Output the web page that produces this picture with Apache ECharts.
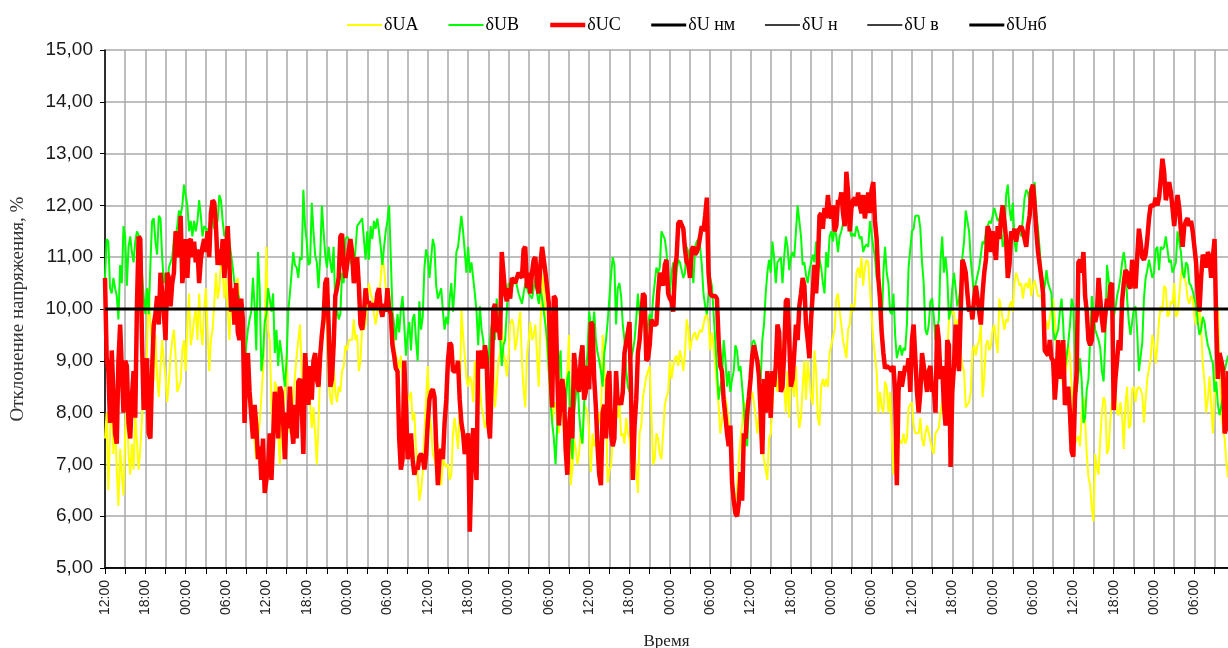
<!DOCTYPE html>
<html>
<head>
<meta charset="utf-8">
<title>Отклонение напряжения</title>
<script src="https://cdn.jsdelivr.net/npm/echarts@6/dist/echarts.min.js"></script>
<style>
  html, body { margin: 0; padding: 0; background: #fff; }
  #chart { width: 1228px; height: 648px; }
</style>
</head>
<body>
<div id="chart"></div>
<script>
// замеры через 15 мин, начало в 12:00
var startHour = 12
var stepMin = 15

// δUA, %
var ua = [
  7.5,8.0,6.5,7.6,8.4,7.2,7.8,6.9,6.2,7.3,
  6.8,6.4,7.6,8.2,7.2,6.8,7.4,6.9,8.0,7.4,
  6.9,7.3,7.9,8.7,8.2,9.2,10.4,9.7,9.3,8.6,
  9.5,8.7,8.3,8.9,9.4,9.0,8.7,8.2,8.6,9.1,
  9.4,9.6,9.1,8.4,8.5,8.6,9.2,9.4,8.8,9.7,
  10.3,9.3,9.5,9.8,10.0,9.4,10.3,9.6,9.3,10.0,
  10.4,9.6,8.8,9.4,9.6,10.1,10.7,10.2,10.4,10.9,
  10.8,10.2,10.6,10.0,9.4,10.2,9.9,10.4,10.5,10.6,
  10.1,9.7,9.2,9.4,8.8,8.4,8.1,8.3,7.8,7.4,
  7.1,7.5,7.8,8.3,8.8,9.6,11.2,9.6,9.4,8.2,
  7.6,8.6,8.5,7.6,7.0,8.0,7.7,8.5,9.1,8.3,
  7.6,7.9,8.2,8.7,9.1,9.4,9.7,8.8,8.3,9.0,
  8.8,8.4,8.2,7.7,8.1,7.6,7.0,7.8,8.8,9.4,
  9.8,9.9,9.7,
  8.6,8.3,8.15,8.9,8.4,8.2,8.5,8.4,8.8,8.9,
  9.3,9.2,9.4,9.4,9.4,9.8,9.4,9.5,8.8,9.0,
  9.7,9.6,9.7,10.2,10.5,10.3,10.2,9.9,9.7,9.7,
  10.2,10.6,11.0,10.8,10.4,10.0,10.05,9.9,9.8,9.3,
  9.1,9.0,8.85,9.1,8.65,7.5,7.6,8.2,8.3,8.4,
  7.85,8.0,7.3,7.3,6.3,6.5,6.85,7.6,8.25,8.9,
  8.0,7.7,7.2,7.1,6.9,7.4,6.85,6.6,7.1,7.1,
  6.95,7.0,6.7,6.8,7.6,7.9,7.6,7.3,8.15,10.0,
  9.5,9.1,8.65,8.5,8.7,8.6,8.2,9.0,8.65,9.2,
  8.5,8.1,7.95,7.7,7.85,8.0,8.2,8.5,9.05,8.1,
  8.5,9.0,9.15,9.7,9.15,9.0,8.7,9.1,9.7,9.8,
  9.7,9.2,9.4,9.7,9.95,9.0,8.45,8.1,9.1,9.4,
  9.75,9.4,9.5,9.7,9.1,8.5,9.7,10.4,10.7,9.7,
  9.2,8.8,8.25,7.8,
  8.15,8.2,7.75,7.6,8.3,8.0,7.6,8.5,8.8,9.5,
  6.6,6.9,7.5,7.3,7.0,7.2,7.7,7.4,8.15,8.1,
  8.0,7.6,6.85,7.6,7.35,7.5,7.7,8.0,7.75,9.5,
  8.9,8.2,6.65,6.9,6.95,7.5,7.8,8.0,7.9,8.2,
  7.55,7.6,7.4,7.9,7.6,7.5,7.2,7.6,7.2,6.9,
  6.45,7.6,7.75,8.3,8.3,8.7,8.7,8.9,8.0,7.0,
  7.1,7.6,7.5,7.2,7.1,7.6,8.15,8.3,8.4,9.0,
  8.65,8.9,9.05,9.1,8.9,9.2,9.05,8.8,9.15,9.8,
  9.6,9.2,9.4,9.5,9.55,9.4,9.5,9.6,9.55,9.7,
  9.85,9.9,9.75,9.2,9.55,9.3,8.9,8.5,8.15,7.6,
  7.6,8.1,8.3,8.1,7.8,7.5,6.95,6.5,6.3,6.5,
  7.1,7.5,7.75,8.2,8.2,8.1,8.25,8.3,8.4,8.2,
  7.95,7.6,7.95,7.5,7.35,7.1,6.9,6.7,7.5,7.6,
  8.15,8.7,8.6,8.4,
  8.4,9.4,8.8,8.5,8.0,8.8,7.9,8.9,8.5,8.3,
  8.9,8.1,7.7,7.9,8.5,9.0,8.25,9.0,8.65,8.3,
  8.15,9.2,8.8,7.9,7.75,8.5,8.65,8.5,8.65,8.5,
  9.15,9.3,9.3,9.6,10.2,10.3,9.95,9.7,9.4,9.4,
  9.05,9.6,9.7,10.1,9.95,10.1,10.7,10.8,10.6,11.0,
  10.45,10.8,10.95,10.9,10.4,9.9,9.4,9.1,8.8,8.0,
  8.4,8.1,8.0,8.6,8.5,8.0,8.4,7.6,6.8,7.7,
  7.6,7.5,7.5,7.4,7.6,7.4,7.5,8.1,8.15,8.2,
  7.75,7.6,7.6,7.6,7.9,7.5,7.35,7.6,7.75,7.6,
  7.6,7.3,7.2,7.6,7.6,7.7,8.0,8.2,8.4,8.8,
  9.15,9.8,10.05,9.9,9.95,9.5,9.8,9.4,9.4,8.9,
  8.8,8.1,8.15,8.2,8.4,9.2,9.3,9.1,9.3,9.4,
  9.7,8.3,8.65,9.3,9.4,9.2,9.3,9.6,9.7,9.4,
  9.15,10.2,10.2,9.8,
  9.6,9.8,9.75,10.05,10.15,9.95,10.5,10.7,10.7,10.45,
  10.5,10.2,10.45,10.5,10.4,10.6,10.25,10.45,10.55,10.4,
  10.25,10.25,10.25,9.95,9.8,9.75,9.6,9.6,10.05,10.2,
  9.8,9.3,9.1,8.9,8.7,8.5,8.5,8.9,9.3,9.1,
  8.5,7.85,7.4,7.4,7.55,7.35,8.0,8.3,7.85,7.2,
  6.75,6.6,6.15,5.9,7.2,6.95,6.8,7.5,8.0,8.3,
  8.2,7.2,7.3,7.85,8.2,8.5,8.45,8.0,7.95,8.2,
  7.95,7.3,8.15,8.5,7.7,7.75,8.45,8.5,8.2,8.45,
  8.5,8.45,8.35,7.8,8.25,8.65,8.85,9.05,9.5,9.3,
  8.95,9.3,9.8,10.05,9.95,10.45,10.4,9.85,9.9,10.15,
  10.1,10.5,9.85,9.9,10.25,10.65,10.8,10.6,10.5,10.2,
  10.1,10.25,10.2,9.85,9.7,9.75,10.0,9.65,8.95,8.6,
  8.0,8.25,8.7,8.15,7.6,8.4,8.9,10.05,8.9,8.0,
  7.7,7.5,7.05,6.75
]

// δUB, %
var ub = [
  10.6,11.35,11.3,10.4,10.3,10.6,10.4,10.25,9.8,10.85,
  10.5,11.6,11.4,10.45,11.2,11.4,11.1,10.9,11.3,11.5,
  11.5,11.35,10.7,10.25,9.9,10.4,9.9,10.85,11.7,11.75,
  11.3,11.05,11.8,11.75,11.0,10.5,10.7,10.4,10.8,10.9,
  11.0,11.35,11.4,11.6,11.9,11.8,12.0,12.4,12.4,12.0,
  11.5,11.7,11.4,11.7,11.5,11.7,12.1,11.8,11.4,11.6,
  11.6,11.5,11.6,11.8,11.7,11.55,11.6,11.7,12.2,12.1,
  11.7,11.4,11.4,11.55,11.3,11.05,10.8,10.5,10.5,10.3,
  10.2,9.95,9.5,8.85,9.3,9.6,9.8,9.95,10.6,10.05,
  9.2,11.1,10.4,8.8,9.1,9.75,9.9,10.4,10.2,9.95,
  10.3,9.15,9.6,8.9,9.4,9.15,8.8,8.5,9.0,9.95,
  10.3,10.7,11.1,10.85,10.8,10.6,11.0,10.95,12.3,11.6,
  11.3,10.85,10.9,12.05,11.5,11.05,10.9,10.4,11.0,12.0,
  11.5,11.05,10.8,
  11.2,10.9,10.7,11.2,10.05,10.0,9.8,9.9,10.7,10.5,
  11.35,11.4,11.35,10.9,10.85,10.7,10.7,11.6,11.6,11.7,
  11.75,11.75,10.95,11.5,10.95,11.6,11.35,11.7,11.55,11.75,
  11.5,11.2,10.85,11.2,11.5,11.7,12.0,11.0,9.95,9.7,
  9.4,9.9,9.55,10.0,10.25,9.7,9.1,9.5,9.75,9.2,
  9.8,9.9,9.4,9.0,10.15,9.6,9.85,10.8,11.15,11.0,
  10.6,10.6,11.35,11.2,10.45,10.2,10.3,10.4,9.95,9.6,
  9.85,9.7,10.2,10.5,9.95,10.4,11.1,11.2,11.5,11.8,
  11.5,11.1,10.7,11.2,10.7,10.9,10.6,10.3,9.95,9.3,
  10.05,9.6,9.4,8.9,9.05,8.9,9.4,9.7,9.55,9.4,
  10.2,9.8,9.5,8.9,9.3,9.4,9.95,10.5,10.5,10.4,
  10.5,10.6,10.45,10.3,10.2,10.1,10.3,10.5,10.4,10.3,
  10.25,10.2,10.4,10.6,10.3,10.1,10.4,10.2,9.95,9.7,
  9.4,8.8,8.25,7.8,
  7.5,7.0,7.75,8.9,9.2,8.0,8.4,8.1,8.65,8.8,
  7.75,7.1,8.0,8.3,8.8,8.0,7.6,7.4,8.15,8.8,
  9.15,9.95,9.7,9.55,9.95,9.4,9.15,9.0,8.8,8.5,
  9.15,9.4,9.75,10.2,10.65,11.0,10.85,9.7,10.4,10.5,
  10.25,9.7,9.4,8.8,8.5,8.4,9.05,9.2,9.4,9.8,
  10.3,9.9,9.55,10.1,9.8,9.4,9.7,9.9,9.7,10.2,
  10.5,10.8,10.7,10.8,11.5,11.5,11.35,11.1,10.6,10.3,
  10.7,10.9,10.3,10.7,10.95,10.9,10.9,10.6,10.7,11.2,
  11.1,10.8,10.85,10.5,11.2,11.3,11.35,11.2,10.85,10.3,
  10.05,9.9,10.3,10.6,10.45,10.45,9.4,9.4,8.25,8.5,
  8.65,9.4,9.05,8.5,8.8,8.4,8.65,8.8,9.3,9.2,
  8.8,8.9,8.5,8.1,7.5,7.35,8.15,8.8,9.35,9.4,
  9.3,9.0,8.8,8.6,9.4,9.7,10.3,10.7,10.95,10.7,
  11.3,11.0,10.5,10.9,
  10.95,11.0,10.5,11.0,11.4,11.2,10.75,11.0,11.1,11.0,
  11.5,12.0,11.7,11.4,10.85,10.9,10.65,10.5,10.75,10.9,
  11.05,10.9,11.3,11.2,10.95,10.8,10.5,10.3,11.1,10.8,
  11.4,11.5,11.3,11.6,11.4,11.1,11.4,11.5,11.65,11.7,
  11.7,11.8,11.55,11.4,11.45,11.4,11.6,11.5,11.35,11.4,
  11.1,11.2,11.25,11.2,11.7,11.7,11.2,11.0,10.6,10.5,
  9.9,9.6,10.7,11.2,10.7,10.5,9.95,9.9,10.3,9.5,
  9.05,9.2,9.3,9.1,9.25,9.2,9.7,10.8,11.15,11.5,
  11.55,11.8,11.8,11.8,11.55,10.9,10.5,9.6,9.5,9.7,
  10.15,10.2,9.85,9.4,9.6,9.8,10.95,11.4,10.7,11.0,
  10.65,9.8,9.95,10.4,10.7,10.4,10.05,10.2,10.5,11.0,
  11.3,11.9,11.7,11.5,10.95,10.6,10.25,10.5,10.65,10.8,
  11.05,11.3,11.25,11.5,11.6,11.7,11.65,11.8,11.95,11.95,
  11.7,11.75,11.6,11.2,
  11.3,12.2,12.4,11.95,11.7,12.05,11.3,11.1,11.5,11.6,
  11.4,11.75,12.15,12.3,12.25,12.05,12.15,12.3,12.45,11.85,
  11.55,11.15,10.65,10.25,10.45,10.75,10.5,10.4,10.3,9.6,
  9.4,9.4,9.6,9.95,10.2,9.7,8.85,8.85,9.35,9.7,
  10.2,10.05,9.15,8.4,8.4,9.05,8.6,7.8,7.9,8.45,
  8.65,9.4,10.25,9.95,9.6,9.5,9.4,9.25,8.8,8.6,
  9.4,10.85,10.85,10.3,9.95,9.85,10.0,10.25,10.4,10.6,
  10.9,11.1,10.85,10.2,9.75,9.5,9.5,10.0,10.05,9.55,
  8.8,8.8,9.35,10.2,10.6,10.75,10.95,10.95,10.6,10.7,
  11.15,11.2,10.75,11.2,11.15,11.2,11.4,11.4,10.9,10.95,
  10.7,10.7,10.9,11.5,11.5,11.1,10.7,10.6,10.9,10.85,
  10.5,10.45,10.35,10.2,10.1,9.75,9.5,9.6,9.85,9.75,
  9.5,9.3,9.2,9.05,8.95,8.4,8.6,8.15,7.95,7.95,
  8.3,8.8,8.95,9.1
]

// δUC, %
var uc = [
  10.6,9.05,8.8,7.8,9.2,8.4,7.6,7.4,9.0,9.7,
  9.7,8.0,9.0,8.9,7.8,7.5,8.3,8.8,7.9,10.05,
  11.4,11.35,9.4,8.05,8.8,9.05,7.6,7.5,8.8,9.7,
  9.9,10.25,9.7,10.7,10.7,9.95,9.4,10.7,10.6,10.05,
  10.5,10.7,11.5,11.35,11.0,11.8,10.5,10.85,11.35,10.6,
  11.3,11.35,11.0,11.3,10.9,11.15,10.5,10.95,11.2,11.35,
  11.1,11.5,11.0,11.85,12.1,12.05,11.6,10.85,11.15,10.85,
  11.35,10.6,11.15,11.6,10.85,9.95,10.4,9.7,10.5,9.55,
  9.4,10.2,9.8,7.8,8.8,9.15,8.4,7.95,7.5,8.15,
  7.75,7.1,7.35,6.7,7.5,6.45,6.45,6.95,7.6,6.7,
  7.5,8.4,8.25,7.5,8.5,8.4,7.8,7.1,8.0,7.7,
  8.5,7.75,7.4,8.15,7.5,8.6,8.65,8.15,7.2,9.15,
  8.65,8.15,8.9,8.25,9.0,9.15,8.65,8.5,9.1,9.5,
  9.8,10.5,10.6,
  9.7,8.5,8.65,9.3,10.25,10.4,10.6,11.4,11.45,10.85,
  10.6,10.85,11.15,11.35,11.1,10.5,10.7,11.0,10.45,9.7,
  9.6,9.9,10.4,10.1,10.15,10.0,10.05,10.1,10.0,10.3,
  10.4,10.0,9.85,10.1,9.95,10.4,10.0,9.9,9.3,9.1,
  8.85,8.8,7.5,6.9,7.1,9.0,8.15,7.1,7.1,7.6,
  7.1,6.8,6.95,6.9,7.15,7.2,7.15,6.9,7.2,7.8,
  8.25,8.4,8.45,8.3,7.35,6.6,7.1,7.3,7.1,7.8,
  8.25,9.0,9.35,9.3,8.8,8.8,8.8,9.0,8.25,7.8,
  7.6,7.2,7.35,7.6,5.7,6.9,7.7,7.7,6.7,9.2,
  8.85,9.2,8.85,9.3,9.05,7.8,7.5,8.6,10.0,10.1,
  9.55,9.8,9.4,11.1,11.1,10.3,10.15,10.4,10.2,10.6,
  10.55,10.5,10.6,10.7,10.65,10.6,11.15,11.2,10.4,10.7,
  10.3,10.7,10.95,11.0,10.45,10.3,10.85,11.2,11.2,10.7,
  10.4,10.1,8.8,8.1,
  10.25,10.2,8.75,7.75,7.75,8.65,8.4,7.3,6.8,7.75,
  8.1,7.5,9.15,9.15,8.5,8.4,9.05,9.3,8.25,8.4,
  8.9,8.45,9.75,9.7,8.65,8.1,7.35,6.8,6.6,8.0,
  8.15,7.5,8.65,8.8,7.6,7.35,7.5,8.8,8.15,8.25,
  8.15,8.4,9.15,9.15,9.55,9.75,8.25,6.7,7.75,8.25,
  9.15,9.4,9.4,10.3,10.25,9.0,9.05,9.3,9.8,9.7,
  9.7,9.7,10.3,10.7,10.7,10.45,10.85,10.95,10.3,10.2,
  10.15,9.95,10.8,11.0,11.65,11.7,11.7,11.55,11.15,10.9,
  10.85,10.6,11.15,11.2,11.05,11.1,11.2,11.2,11.6,11.5,
  11.8,12.15,10.7,10.3,10.25,10.25,10.25,10.2,9.4,8.9,
  8.8,8.25,7.95,7.6,7.35,7.75,6.65,6.3,6.05,6.0,
  6.25,6.85,6.3,7.6,7.5,8.0,8.3,8.65,9.1,9.3,
  9.15,9.0,8.7,8.0,7.2,8.65,8.0,8.8,8.5,7.9,
  8.8,8.5,8.9,9.7,
  9.55,8.4,8.5,9.15,10.15,10.2,9.4,8.5,8.65,9.15,
  9.7,9.4,10.05,10.3,10.6,10.45,9.7,9.4,9.05,9.8,
  10.3,10.85,10.3,10.85,11.8,11.85,11.55,11.95,11.75,12.2,
  11.85,11.75,12.0,11.5,11.6,12.1,12.05,12.25,11.85,11.6,
  12.65,12.25,11.5,11.95,12.1,12.15,12.0,12.25,12.0,11.85,
  12.2,11.75,12.0,12.25,11.85,12.3,12.45,11.7,11.35,10.6,
  10.2,9.55,9.15,8.85,8.9,8.9,8.85,8.8,8.9,8.4,
  6.6,8.4,8.8,8.5,8.5,8.9,8.8,9.05,8.4,9.4,
  9.7,9.05,8.4,8.0,8.4,9.15,8.9,8.65,8.4,8.8,
  8.9,8.4,8.5,8.0,9.7,9.4,8.65,8.9,8.15,7.75,
  9.4,9.3,6.95,8.4,8.9,9.7,9.15,8.8,9.95,10.95,
  10.85,10.7,10.3,9.95,10.05,9.8,10.2,10.45,10.45,9.95,
  9.7,10.3,10.7,10.95,11.6,11.5,11.1,11.5,11.15,10.95,
  11.6,11.35,11.75,12.0,
  11.7,11.35,10.6,10.85,11.5,11.35,11.55,11.3,11.5,11.5,
  11.6,11.5,11.35,11.2,11.6,11.8,12.3,12.4,12.0,11.5,
  11.1,11.1,10.6,10.3,9.2,9.15,9.1,9.4,9.05,9.0,
  8.25,8.7,9.4,8.65,8.65,9.4,8.15,8.25,8.5,8.0,
  7.25,7.15,8.3,8.8,10.9,10.95,10.7,11.1,10.25,9.95,
  9.4,9.3,9.4,10.0,9.75,9.9,10.6,10.6,9.8,9.55,
  9.55,10.2,10.0,10.45,10.5,8.05,8.65,9.0,9.4,9.2,
  10.15,10.5,10.75,10.7,10.45,10.4,10.95,10.6,10.4,11.0,
  11.55,11.3,11.0,10.95,11.05,11.35,11.75,12.0,12.0,12.0,
  12.15,12.0,12.15,12.5,12.9,12.65,12.1,12.1,12.45,12.25,
  11.95,11.6,11.95,12.2,11.95,11.5,11.2,11.6,11.7,11.75,
  11.6,11.7,11.5,11.2,10.9,10.3,9.95,10.6,11.05,10.95,
  10.8,11.1,11.0,10.6,11.0,11.35,9.7,8.65,9.15,9.15,
  8.85,7.6,7.7,8.8
]

// нормируемые границы, %
var limitNames = ['δU нм', 'δU н', 'δU в', 'δUнб']
var limitValues = [-10, -5, 5, 10]
var limitWidths = [3, 1.5, 1.5, 3]

var yTicks = [5, 15, 1]

var times = []
for (var i = 0; i < ua.length; i++) {
  var m = startHour * 60 + i * stepMin
  var h = Math.floor(m / 60) % 24
  var mm = m % 60
  times.push((h < 10 ? '0' : '') + h + ':' + (mm < 10 ? '0' : '') + mm)
}

var serif = 'Liberation Serif, Times New Roman, serif'
var sans = 'Liberation Sans, Arial, sans-serif'
var perTick = 180 / stepMin   // 3 часа
var perLabel = 360 / stepMin  // 6 часов

var seriesTemp = [
  { name: 'δUA', type: 'line', data: ua, lineStyle: { color: '#ffff00', width: 2 } },
  { name: 'δUB', type: 'line', data: ub, lineStyle: { color: '#00ff00', width: 2 } },
  { name: 'δUC', type: 'line', data: uc, lineStyle: { color: '#ff0000', width: 4.5 } }
]
for (var k = 0; k < limitNames.length; k++) {
  seriesTemp.push({
    name: limitNames[k],
    type: 'line',
    data: times.map(function () { return limitValues[k] }),
    lineStyle: { color: '#000', width: limitWidths[k] }
  })
}
seriesTemp.forEach(function (s) {
  s.symbol = 'none'
  s.showSymbol = false
  s.itemStyle = { color: s.lineStyle.color }
  s.animation = false
})

var chart = echarts.init(document.getElementById('chart'))
chart.setOption({
  animation: false,
  legend: {
    top: 11,
    left: 341,
    itemWidth: 35,
    itemHeight: 14,
    itemGap: 29,
    itemStyle: { opacity: 0 },
    lineStyle: { width: 'inherit' },
    textStyle: { fontFamily: serif, fontSize: 18, color: '#000', padding: [0, 0, 0, -3] },
    data: ['δUA', 'δUB', 'δUC'].concat(limitNames)
  },
  grid: {
    left: 105, right: 0, top: 50, bottom: 80,
    containLabel: false,
    outerBoundsMode: 'none'
  },
  xAxis: {
    type: 'category',
    data: times,
    boundaryGap: false,
    name: 'Время',
    nameLocation: 'middle',
    nameGap: 65,
    nameTextStyle: { fontFamily: serif, fontSize: 17, color: '#222' },
    axisLine: { lineStyle: { color: '#000', width: 1.5 } },
    axisTick: { interval: perTick - 1, length: 6, lineStyle: { color: '#000' } },
    axisLabel: {
      interval: perLabel - 1,
      rotate: 90,
      margin: 12,
      fontFamily: sans,
      fontSize: 14,
      color: '#222'
    },
    splitLine: { show: true, interval: perTick - 1, lineStyle: { color: '#a8a8a8', width: 1.5 } }
  },
  yAxis: {
    type: 'value',
    min: yTicks[0],
    max: yTicks[1],
    interval: yTicks[2],
    name: 'Отклонение напряжения, %',
    nameLocation: 'middle',
    nameGap: 77,
    nameTextStyle: { fontFamily: serif, fontSize: 19, color: '#333' },
    axisLine: { show: true, lineStyle: { color: '#000', width: 1.5 } },
    axisTick: { show: true, length: 5, lineStyle: { color: '#000' } },
    axisLabel: {
      margin: 12,
      fontFamily: sans,
      fontSize: 19,
      color: '#1a1a1a',
      formatter: function (v) { return v.toFixed(2).replace('.', ',') }
    },
    splitLine: { lineStyle: { color: '#a8a8a8', width: 1.5 } }
  },
  series: seriesTemp
})

window.addEventListener('resize', function () {
  chart.resize()
})
</script>
</body>
</html>
